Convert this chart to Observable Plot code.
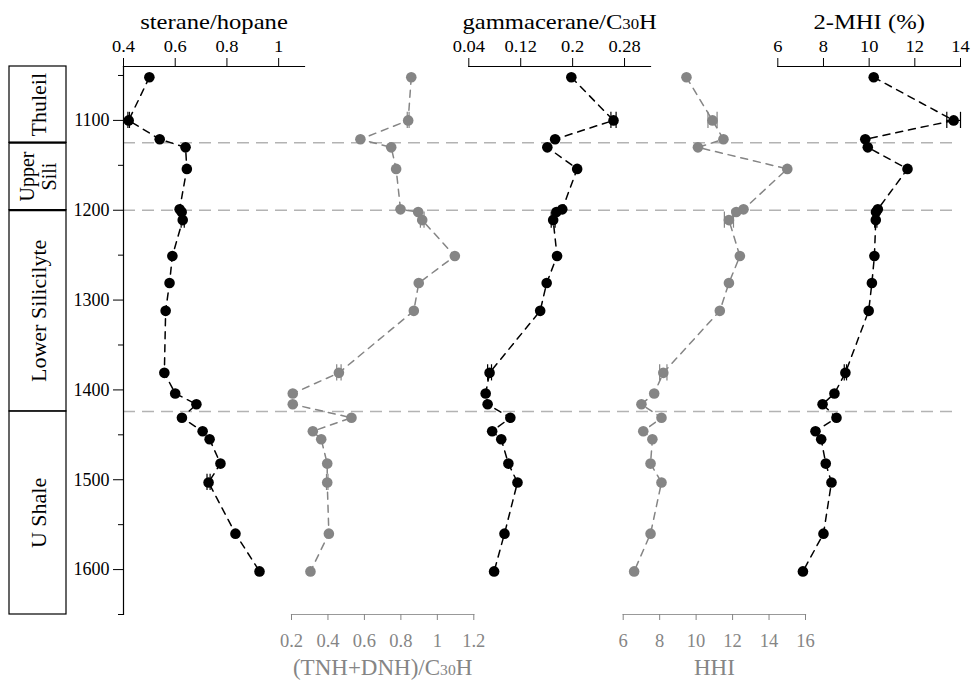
<!DOCTYPE html>
<html>
<head>
<meta charset="utf-8">
<script src="https://cdn.jsdelivr.net/npm/d3@7"></script>
<script src="https://cdn.jsdelivr.net/npm/@observablehq/plot@0.6"></script>
<style>
  body { margin: 0; background: #fff; }
  #chart { position: relative; width: 972px; height: 687px; }
  #chart svg { position: absolute; left: 0; top: 0; }
</style>
</head>
<body>
<div id="chart"></div>
<script>
// Sample depths (m) and the five biomarker profiles measured at each depth
const depth = [1052, 1100, 1121, 1130, 1154, 1199, 1202, 1211, 1251, 1281, 1312,
               1381, 1404, 1416, 1431, 1446, 1455, 1482, 1503, 1560, 1602];
const steraneHopane = [0.50, 0.42, 0.54, 0.64, 0.645, 0.617, 0.625, 0.629, 0.589, 0.578, 0.563,
                       0.558, 0.60, 0.682, 0.626, 0.706, 0.733, 0.775, 0.729, 0.833, 0.926];
const tnhDnh = [0.857, 0.84, 0.578, 0.747, 0.774, 0.798, 0.895, 0.917, 1.096, 0.898, 0.871,
                0.46, 0.207, 0.207, 0.529, 0.317, 0.363, 0.396, 0.396, 0.405, 0.304];
const gammacerane = [0.198, 0.263, 0.173, 0.161, 0.207, 0.184, 0.175, 0.170, 0.176, 0.160, 0.150,
                     0.072, 0.066, 0.069, 0.104, 0.076, 0.090, 0.101, 0.115, 0.095, 0.079];
const hhi = [9.47, 10.9, 11.5, 10.1, 15.0, 12.6, 12.2, 11.8, 12.4, 11.8, 11.3,
             8.2, 7.7, 7.0, 8.1, 7.1, 7.6, 7.5, 8.1, 7.5, 6.6];
const mhi2 = [10.2, 13.7, 9.83, 9.94, 11.68, 10.38, 10.3, 10.29, 10.23, 10.12, 9.98,
              8.96, 8.48, 7.96, 8.57, 7.65, 7.9, 8.1, 8.35, 8.0, 7.1];

// Analytical uncertainty (half-width) where replicate runs exist
const steraneErr = [0, 0.003, 0, 0, 0, 0, 0, 0.006, 0, 0, 0, 0, 0, 0, 0, 0, 0, 0, 0.006, 0, 0];
const tnhErr     = [0, 0.005, 0, 0, 0, 0, 0, 0.01, 0, 0, 0, 0.012, 0, 0, 0, 0, 0, 0, 0.004, 0, 0];
const gammaErr   = [0, 0.004, 0, 0, 0, 0, 0, 0.003, 0, 0, 0, 0.003, 0, 0, 0, 0, 0, 0, 0, 0, 0];
const hhiErr     = [0, 0.25, 0, 0, 0, 0, 0, 0.25, 0, 0, 0, 0.2, 0, 0, 0, 0, 0, 0, 0, 0, 0];
const mhiErr     = [0, 0.3, 0, 0, 0, 0, 0, 0.05, 0, 0, 0, 0.05, 0, 0, 0, 0, 0, 0, 0, 0, 0];

// Stratigraphic units
const formationNames = ["Thuleil", "Upper\nSili", "Lower Silicilyte", "U Shale"];
const formationTop   = [1040, 1125, 1200, 1424];
const formationBase  = [1125, 1200, 1424, 1650];
const formationSize  = [22, 20, 22, 22];
const boundaryDepths = [1125, 1200, 1424];

// Axis ticks
const depthMajor = [1100, 1200, 1300, 1400, 1500, 1600];
const depthMinor = [1050, 1150, 1250, 1350, 1450, 1550, 1650];
const steraneTicks = [0.4, 0.6, 0.8, 1];
const tnhTicks = [0.2, 0.4, 0.6, 0.8, 1, 1.2];
const gammaTicks = [0.04, 0.12, 0.2, 0.28];
const hhiTicks = [6, 8, 10, 12, 14, 16];
const mhiTicks = [6, 8, 10, 12, 14];

const W = 972, H = 687, TOP = 66, BOTTOM = 73;
const depthDomain = [1040, 1650];
const FONT = "'Liberation Serif', 'Times New Roman', serif";
const BLACK = "#000", GREY = "#858585";
const CAP = 9; // error-bar cap half-height, in metres

const rows = depth.map((d, i) => ({
  depth: d,
  ster: steraneHopane[i], sterE: steraneErr[i],
  tnh: tnhDnh[i], tnhE: tnhErr[i],
  gam: gammacerane[i], gamE: gammaErr[i],
  hhi: hhi[i], hhiE: hhiErr[i],
  mhi: mhi2[i], mhiE: mhiErr[i]
}));

function profileMarks(key, color) {
  const err = rows.filter(r => r[key + "E"] > 0);
  return [
    Plot.ruleY(err, {y: "depth", x1: r => r[key] - r[key + "E"], x2: r => r[key] + r[key + "E"], stroke: color, strokeWidth: 1.2}),
    Plot.ruleX(err, {x: r => r[key] - r[key + "E"], y1: r => r.depth - CAP, y2: r => r.depth + CAP, stroke: color, strokeWidth: 1.2}),
    Plot.ruleX(err, {x: r => r[key] + r[key + "E"], y1: r => r.depth - CAP, y2: r => r.depth + CAP, stroke: color, strokeWidth: 1.2}),
    Plot.line(rows, {x: key, y: "depth", stroke: color, strokeWidth: 1.5, strokeDasharray: "7,6"}),
    Plot.dot(rows, {x: key, y: "depth", r: 5.3, fill: color, stroke: "none"})
  ];
}

function panel(left, right, xDomain, marks, showY = false) {
  return Plot.plot({
    width: W, height: H,
    marginTop: TOP, marginBottom: BOTTOM, marginLeft: left, marginRight: right,
    x: {domain: xDomain},
    y: showY ? {domain: depthDomain, reverse: true} : {domain: depthDomain, reverse: true, axis: null},
    style: {fontFamily: FONT, background: "transparent", overflow: "visible", color: "#000"},
    marks
  });
}

function topAxis(ticks, title) {
  return [
    Plot.frame({anchor: "top", stroke: BLACK, strokeWidth: 1.2}),
    Plot.axisX({anchor: "top", ticks, tickSize: 9, tickPadding: 6, fontSize: 16.5, label: null, tickFormat: d => String(d)}),
    Plot.text([title], {frameAnchor: "top", dy: -53, fontSize: 22, fill: BLACK})
  ];
}

function bottomAxis(ticks, title) {
  return [
    Plot.frame({anchor: "bottom", stroke: "#999", strokeWidth: 1.2}),
    Plot.axisX({anchor: "bottom", ticks, tickSize: 6, tickPadding: 13, fontSize: 18.5, label: null, color: GREY, tickFormat: d => String(d)}),
    Plot.text([title], {frameAnchor: "bottom", dy: 60, fontSize: 23, fill: GREY})
  ];
}

// Formation column on the far left
const formations = formationNames.map((n, i) => ({name: n, top: formationTop[i], base: formationBase[i], size: formationSize[i]}));
const column = Plot.plot({
  width: W, height: H, marginTop: TOP, marginBottom: BOTTOM, marginLeft: 9, marginRight: W - 66,
  x: {domain: [0, 1], axis: null},
  y: {domain: depthDomain, reverse: true, axis: null},
  style: {fontFamily: FONT, background: "transparent", overflow: "visible"},
  marks: [
    Plot.rect(formations, {x1: 0, x2: 1, y1: "top", y2: "base", fill: "none", stroke: BLACK, strokeWidth: 1.2}),
    Plot.ruleY(boundaryDepths.slice(0, 2), {stroke: BLACK, strokeWidth: 2}),
    Plot.text(formations, {x: 0.5, y: d => (d.top + d.base) / 2, text: "name", rotate: -90,
                           fontSize: d => d.size, lineHeight: 1.1, fill: BLACK})
  ]
});

// Unit boundaries across all profiles
const boundaries = Plot.plot({
  width: W, height: H, marginTop: TOP, marginBottom: BOTTOM, marginLeft: 123, marginRight: 14,
  x: {domain: [0, 1], axis: null},
  y: {domain: depthDomain, reverse: true, axis: null},
  style: {background: "transparent", overflow: "visible"},
  marks: [Plot.ruleY(boundaryDepths, {stroke: "#b3b3b3", strokeWidth: 1.5, strokeDasharray: "12,7"})]
});

const sterPlot = panel(123, W - 304, [0.4, 1.1], [
  ...topAxis(steraneTicks, "sterane/hopane"),
  Plot.frame({anchor: "left", stroke: BLACK, strokeWidth: 1.2}),
  Plot.axisY({anchor: "left", ticks: depthMajor, tickSize: 10, tickPadding: 4, fontSize: 18, label: null, tickFormat: d => String(d)}),
  Plot.axisY({anchor: "left", ticks: depthMinor, tickSize: 5, label: null, tickFormat: () => ""}),
  ...profileMarks("ster", BLACK)
], true);

const tnhPlot = panel(291, W - 473.3, [0.2, 1.2], [
  ...bottomAxis(tnhTicks, "(TNH+DNH)/C30H"),
  ...profileMarks("tnh", GREY)
]);

const gamPlot = panel(468.3, W - 650, [0.04, 0.32], [
  ...topAxis(gammaTicks, "gammacerane/C30H"),
  ...profileMarks("gam", BLACK)
]);

const hhiPlot = panel(622.7, W - 805, [6, 16], [
  ...bottomAxis(hhiTicks, "HHI"),
  ...profileMarks("hhi", GREY)
]);

const mhiPlot = panel(777.3, W - 960, [6, 14], [
  ...topAxis(mhiTicks, "2-MHI (%)"),
  ...profileMarks("mhi", BLACK)
]);

// Small "30" in C30H labels
function subscriptC30(svg) {
  svg.querySelectorAll("text").forEach(t => {
    if (t.textContent.includes("C30H")) {
      const [pre, post] = t.textContent.split("30");
      while (t.firstChild) t.removeChild(t.firstChild);
      const ns = "http://www.w3.org/2000/svg";
      t.appendChild(document.createTextNode(pre));
      const s = document.createElementNS(ns, "tspan");
      s.setAttribute("font-size", "0.68em");
      s.textContent = "30";
      t.appendChild(s);
      t.appendChild(document.createTextNode(post));
    }
  });
}

// Top-axis lettering is set slightly wide
function widen(svg, k) {
  svg.querySelectorAll('g[aria-label="x-axis tick label"] text, g[aria-label="text"] text').forEach(t => {
    const tr = t.getAttribute("transform") || "";
    t.setAttribute("transform", tr + ` scale(${k},1)`);
  });
}

const chart = document.getElementById("chart");
for (const p of [boundaries, column, sterPlot, tnhPlot, gamPlot, hhiPlot, mhiPlot]) {
  subscriptC30(p);
  chart.appendChild(p);
}
for (const p of [sterPlot, gamPlot, mhiPlot]) widen(p, 1.12);
</script>
</body>
</html>
